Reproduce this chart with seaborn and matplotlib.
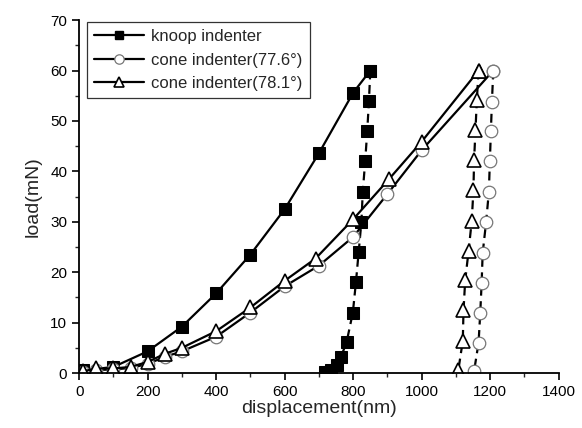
import matplotlib
matplotlib.use("Agg")
import matplotlib.pyplot as plt
from matplotlib.lines import Line2D
from matplotlib.ticker import MultipleLocator
import pandas as pd
import seaborn as sns

sns.set_style("ticks")
plt.rcParams["font.family"] = ["Liberation Sans", "DejaVu Sans"]

# knoop indenter
knoop_load_x = [10, 100, 200, 300, 400, 500, 600, 700, 800, 850]
knoop_load_y = [0.5, 1.2, 4.3, 9.2, 15.8, 23.5, 32.5, 43.6, 55.6, 60]
knoop_unload_x = [850, 846, 841, 835, 828, 824, 816, 808, 799, 781, 764, 752, 735, 718]
knoop_unload_y = [60, 54, 48, 42, 36, 30, 24, 18, 12, 6.2, 3.1, 1.6, 0.5, 0.1]

# cone indenter 77.6 deg
c776_load_x = [10, 50, 100, 150, 200, 250, 300, 400, 500, 600, 700, 800, 900, 1000, 1209]
c776_load_y = [0.2, 0.6, 0.7, 1.0, 1.8, 3.2, 4.3, 7.2, 12.0, 17.2, 21.3, 27.0, 35.5, 44.2, 60]
c776_unload_x = [1209, 1205, 1202, 1199, 1196, 1188, 1178, 1175, 1171, 1166, 1153]
c776_unload_y = [60, 53.8, 48, 42, 35.9, 29.9, 23.8, 17.9, 12, 6, 0.4]

# cone indenter 78.1 deg
c781_load_x = [10, 50, 100, 150, 200, 250, 300, 400, 500, 600, 690, 800, 905, 1000, 1166]
c781_load_y = [0.3, 0.9, 0.9, 1.2, 2.2, 3.8, 5.0, 8.3, 13.0, 18.3, 22.7, 30.5, 38.5, 45.9, 60]
c781_unload_x = [1166, 1161, 1157, 1153, 1151, 1146, 1137, 1127, 1122, 1120, 1107]
c781_unload_y = [60, 54.2, 48.2, 42.3, 36.3, 30.1, 24.3, 18.4, 12.4, 6.4, 0.6]

series = [
    ("knoop indenter", knoop_load_x, knoop_load_y, knoop_unload_x, knoop_unload_y,
     dict(marker="s", markersize=8.5, markerfacecolor="black", markeredgecolor="black")),
    ("cone indenter(77.6°)", c776_load_x, c776_load_y, c776_unload_x, c776_unload_y,
     dict(marker="o", markersize=9, markerfacecolor="white", markeredgecolor="#777777",
          markeredgewidth=0.9)),
    ("cone indenter(78.1°)", c781_load_x, c781_load_y, c781_unload_x, c781_unload_y,
     dict(marker="^", markersize=10.5, markerfacecolor="white", markeredgecolor="black",
          markeredgewidth=1.2)),
]

fig = plt.figure(figsize=(5.82, 4.28), dpi=100)
ax = fig.add_axes([0.136, 0.1285, 0.824, 0.8245])

handles = []
for name, lx, ly, ux, uy, mk in series:
    load = pd.DataFrame({"x": lx, "y": ly})
    unload = pd.DataFrame({"x": ux, "y": uy})
    sns.lineplot(data=load, x="x", y="y", ax=ax, sort=False, estimator=None,
                 color="black", linewidth=1.6, **mk)
    sns.lineplot(data=unload, x="x", y="y", ax=ax, sort=False, estimator=None,
                 color="black", linewidth=1.6, linestyle=(0, (4, 2.5)), **mk)
    handles.append(Line2D([], [], color="black", linewidth=1.6, label=name,
                          **{**mk, "markersize": mk["markersize"] * 0.75}))

ax.set_xlim(0, 1400)
ax.set_ylim(0, 70)
ax.xaxis.set_major_locator(MultipleLocator(200))
ax.xaxis.set_minor_locator(MultipleLocator(100))
ax.yaxis.set_major_locator(MultipleLocator(10))
ax.yaxis.set_minor_locator(MultipleLocator(5))
ax.tick_params(which="major", direction="out", length=5, width=1.2, labelsize=11, colors="black")
ax.tick_params(which="minor", direction="out", length=3, width=1.0)
for s in ["left", "bottom"]:
    ax.spines[s].set_linewidth(1.3)
    ax.spines[s].set_color("black")
sns.despine(ax=ax)

ax.set_xlabel("displacement(nm)", fontsize=14, labelpad=1)
ax.set_ylabel("load(mN)", fontsize=14, labelpad=6)

leg = ax.legend(handles=handles, loc="upper left", bbox_to_anchor=(0.012, 1.0),
                fontsize=12, frameon=True, fancybox=False, edgecolor="black",
                handlelength=3.0, borderpad=0.45, labelspacing=0.5, handletextpad=0.4,
                borderaxespad=0.1)
leg.get_frame().set_linewidth(0.9)

fig.savefig("out.png", dpi=100)
